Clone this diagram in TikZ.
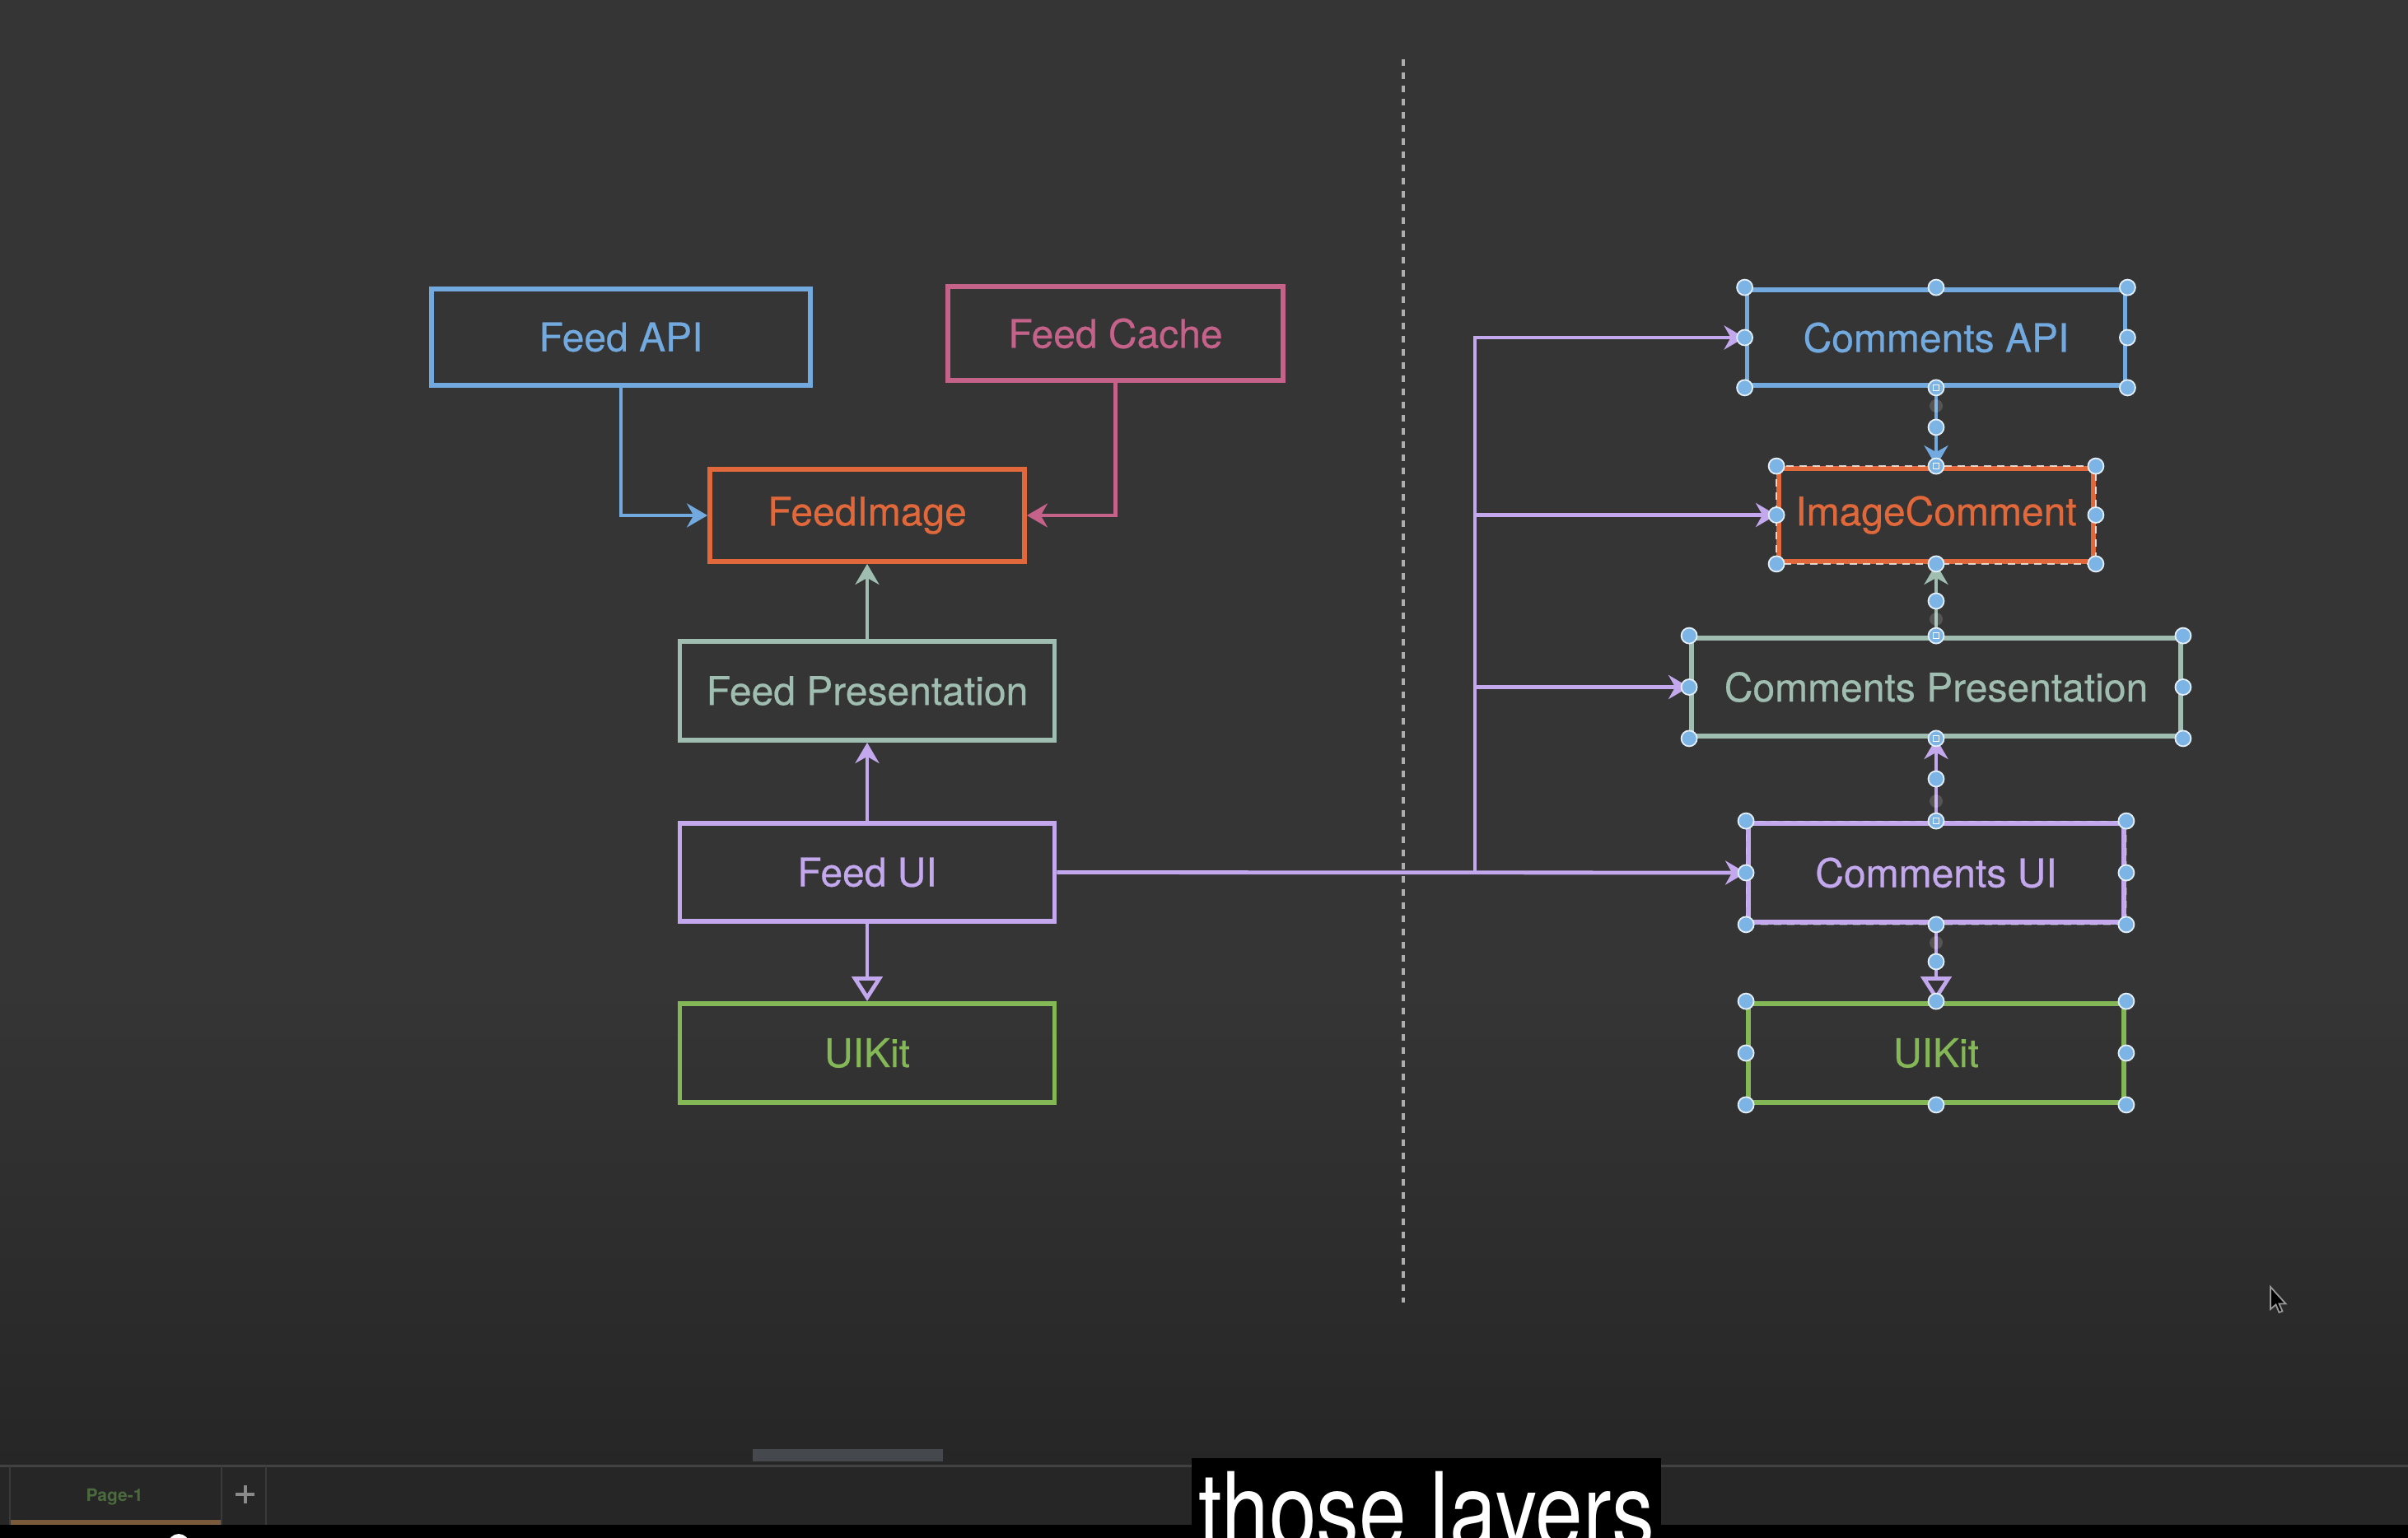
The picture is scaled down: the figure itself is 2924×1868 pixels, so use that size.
\documentclass[tikz,border=0pt]{standalone}
\usepackage{fontspec}
\usepackage{graphicx}
\setmainfont{TeX Gyre Heros}
\newfontfamily\boxfont{TeX Gyre Heros}[FakeBold=0.5]
\usetikzlibrary{arrows.meta}
\definecolor{bgtop}{HTML}{353535}
\definecolor{bgbot}{HTML}{262626}
\definecolor{cblue}{HTML}{72A9DE}
\definecolor{cpink}{HTML}{C5628A}
\definecolor{corange}{HTML}{E0683A}
\definecolor{cpres}{HTML}{9FBDB1}
\definecolor{cpurple}{HTML}{C4A8EE}
\definecolor{cgreen}{HTML}{84B756}
\definecolor{hblue}{HTML}{7DB4E6}
\definecolor{hedge}{HTML}{E2EEF8}
\definecolor{sepline}{HTML}{424242}
\definecolor{tabline}{HTML}{3A3A3A}
\definecolor{tabtext}{HTML}{4B6B3E}
\definecolor{taborange}{HTML}{7B5A3B}
\definecolor{thumb}{HTML}{45484C}
\begin{document}
\begin{tikzpicture}[x=1pt,y=-1pt,
  box/.style={draw, line width=5.8pt, inner sep=0pt, font=\boxfont\fontsize{48}{56}\selectfont},
  conn/.style={line width=4.8pt, -{Stealth[length=25pt,width=29pt,inset=8pt]}},
  inh/.style={line width=4.8pt, -{Triangle[open,length=30pt,width=37pt]}},
  handle/.style={fill=hblue, draw=hedge, line width=1.8pt},
  ghost/.style={fill=white, fill opacity=0.16},
  sq/.style={draw=white, line width=1.3pt},
]
\useasboundingbox (0,0) rectangle (2924,1868);
% background
\fill[bgtop] (0,0) rectangle (2924,1200);
\shade[top color=bgtop, bottom color=bgbot] (0,1199) rectangle (2924,1781);
\fill[bgbot] (0,1780) rectangle (2924,1852);
% divider
\draw[draw=white!68!black, line width=3.5pt, dash pattern=on 8pt off 8pt] (1704,72) -- (1704,1582);

% left column
\node[box, draw=cblue, text=cblue, minimum width=460pt, minimum height=117pt] (feedapi) at (754,409.5) {Feed API};
\node[box, draw=cpink, text=cpink, minimum width=407pt, minimum height=114pt] (feedcache) at (1354.5,405) {Feed Cache};
\node[box, draw=corange, text=corange, minimum width=382pt, minimum height=112pt] (feedimage) at (1053,626) {FeedImage};
\node[box, draw=cpres, text=cpres, minimum width=455pt, minimum height=120pt] (feedpres) at (1053,839) {Feed Presentation};
\node[box, draw=cpurple, text=cpurple, minimum width=455pt, minimum height=119pt] (feedui) at (1053,1059.5) {Feed UI};
\node[box, draw=cgreen, text=cgreen, minimum width=455pt, minimum height=120pt] (uikitl) at (1053,1279) {UIKit};

% right column
\node[box, draw=cblue, text=cblue, minimum width=459pt, minimum height=116pt] (commapi) at (2351,410) {Comments API};
\node[box, draw=corange, text=corange, minimum width=382pt, minimum height=113pt] (imgcomm) at (2351,625.5) {ImageComment};
\node[box, draw=cpres, text=cpres, minimum width=594pt, minimum height=119pt] (commpres) at (2351,834.5) {Comments Presentation};
\node[box, draw=cpurple, text=cpurple, minimum width=456pt, minimum height=120pt] (commui) at (2351,1060) {Comments UI};
\node[box, draw=cgreen, text=cgreen, minimum width=456pt, minimum height=120pt] (uikitr) at (2351,1279) {UIKit};

% selection dashes
\draw[white, line width=1.5pt, dash pattern=on 9pt off 7pt, opacity=0.75] (imgcomm.north west) rectangle (imgcomm.south east);
\draw[white, line width=1.2pt, dash pattern=on 9pt off 7pt, opacity=0.25] (commui.north west) rectangle (commui.south east);

% left connectors
\draw[conn, cblue] (feedapi.south) |- (feedimage.west);
\draw[conn, cpink] (feedcache.south) |- (feedimage.east);
\draw[conn, cpres] (feedpres.north) -- (feedimage.south);
\draw[conn, cpurple] (feedui.north) -- (feedpres.south);
\draw[inh, cpurple] (feedui.south) -- (uikitl.north);

% cross connectors
\coordinate (junction) at (1791,1060);
\draw[conn, cpurple] (feedui.east) -- (commui.west);
\draw[conn, cpurple] (junction) |- (commapi.west);
\draw[conn, cpurple] (junction) |- (imgcomm.west);
\draw[conn, cpurple] (junction) |- (commpres.west);

% right connectors
\draw[conn, cblue] (commapi.south) -- (imgcomm.north);
\draw[conn, cpres] (commpres.north) -- (imgcomm.south);
\draw[conn, cpurple] (commui.north) -- (commpres.south);
\draw[inh, cpurple] (commui.south) -- (uikitr.north);

% selection handles
\foreach \n in {commapi,imgcomm,commpres,commui,uikitr}{
  \foreach \a in {north west,north,north east,east,south east,south,south west,west}{
    \filldraw[handle] (\n.\a) circle[radius=9.5pt];
  }
}
\foreach \y in {493,752,973,1145}{\fill[ghost] (2351,\y) circle[radius=8pt];}
\foreach \y in {519,730,946,1168}{\filldraw[handle] (2351,\y) circle[radius=9.5pt];}
\foreach \p in {commapi.south,imgcomm.north,commpres.north,commpres.south,commui.north}{
  \draw[sq, shift={(\p)}] (-3.5,-3.5) rectangle (3.5,3.5);
}

% mouse cursor
\filldraw[fill=black, draw=white!60!black, line width=1.8pt, shift={(2757,1563)}]
  (0,0) -- (0,27) -- (6.5,21.5) -- (10.5,31) -- (14.5,29.5) -- (10.5,20.5) -- (18.5,20.5) -- cycle;

% bottom bar
\fill[thumb] (914,1760) rectangle (1145,1775);
\draw[sepline, line width=3pt] (0,1780) -- (2924,1780);
\draw[tabline, line width=2pt] (12,1781) -- (12,1852) (269,1781) -- (269,1852) (323,1781) -- (323,1852);
\fill[taborange] (13,1846) rectangle (268,1852);
\node[text=tabtext, font=\bfseries\fontsize{21}{24}\selectfont, inner sep=0pt] (pagetab) at (139,1818) {Page-1};
\draw[white!54!black, line width=4pt] (286,1815) -- (309,1815) (297.5,1804) -- (297.5,1826);
\fill[black] (0,1852) rectangle (2924,1868);
\begin{scope}
\clip (0,0) rectangle (2924,1868);
\fill[white] (217,1876) circle[radius=13pt];
\fill[black] (1447,1771) rectangle (2017,1868);
\node[anchor=base, text=white, font=\fontsize{128}{130}\selectfont, inner sep=0pt] (subtitle) at (1732,1880) {\scalebox{0.81}[1]{those layers}};
\end{scope}
\end{tikzpicture}
\end{document}
